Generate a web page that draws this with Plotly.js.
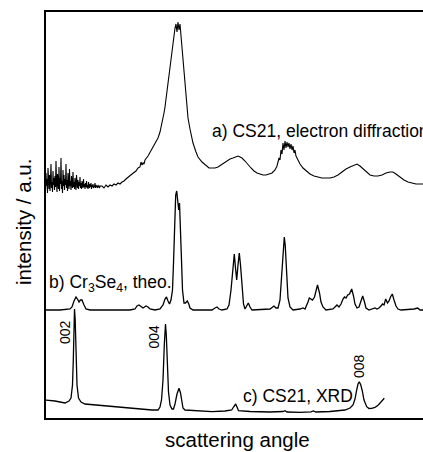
<!DOCTYPE html>
<html>
<head>
<meta charset="utf-8">
<script src="https://cdn.plot.ly/plotly-3.0.1.min.js"></script>
<style>html,body{margin:0;padding:0;background:#fff;}#chart{width:423px;height:452px;}</style>
</head>
<body>
<div id="chart"></div>
<script>
// (a) CS21, electron diffraction — scattering angle (arb.) vs intensity (arb.)
const angleA = [45,45.5,46,46.5,47,47.5,48,48.5,49,49.5,50,50.5,51,51.5,52,52.5,53,53.5,54,54.5,55,
  55.5,56,56.5,57,57.5,58,58.5,59,59.5,60,60.5,61,61.5,62,62.5,63,63.5,64,64.5,65,
  65.5,66,66.5,67,67.5,68,68.5,69,69.5,70,70.5,71,71.5,72,72.5,73,73.5,74,74.5,75,
  75.5,76,76.5,77,77.5,78,78.5,79,79.5,80,80.5,81,81.5,82,82.5,83,83.5,84,84.5,85,
  85.5,86,86.5,87,87.5,88,88.5,89,89.5,90,90.5,91,91.5,92,92.5,93,93.5,94,94.5,95,95.5,96,96.5,97,97.5,98,98.5,99,99.5,100,
  102,104,106,108,110,112,114,116,118,120,122,124,126,128,132,136,138,140,141,142,143,144,145,148,151,154,156,158,160,162,164,165,166,168,170,172,173,174,175,176,177,178,179,180,181,182,183,184,185,186,188,190,193,196,198,202,205,209,212,215,218,221,224,227,230,233,236,238,240,242,245,248,251,254,257,260,263,266,269,272,275,277,279,280,281,282,283,284,285,286,287,288,289,290,291,292,293,294,295,296,298,300,303,306,310,314,318,322,326,330,334,338,342,346,350,354,357,360,363,366,370,374,378,382,386,390,393,396,400,404,408,412,416,420,423];
const intensityA = [238,229,246,233,240,226,251,236,230,244,228,239,255,231,237,227,248,234,241,229,243,
  232,258,236,227,245,239,230,252,228,241,235,261,230,238,226,249,233,244,229,240,
  234,255,231,239,228,246,236,230,250,233,238,229,243,235,231,247,232,237,230,241,
  234,229,244,236,231,239,230,237,233,242,231,236,230,238,234,231,240,232,235,230,
  236,232,238,231,234,230,237,233,231,235,232,236,230,234,232,235,231,233,232,236,231,234,232,233,231,234,232,233,231,233,
  233,231,234,232,234,233,235,234,236,235,237,238,240,242,245,248,251,252,257,254,256,255,259,263,268,273,277,281,287,295,306,312,320,339,355,371,376,383,391,395,387,397,389,395,384,371,359,347,332,321,301,290,276,267,262,257,254,251,251,251,252,254,256,258,260,261,262,263,262,261,258,254,251,248,246,245,244,244,245,246,249,253,261,259,269,265,276,269,278,271,277,272,276,270,275,269,273,266,269,263,259,255,251,248,245,243,242,241,241,241,242,244,247,250,252,254,255,253,250,247,244,243,243,244,246,247,247,245,242,239,237,236,235,235,235];

// (b) Cr3Se4, theoretical pattern
const angleB = [45,60,70,72,74,76,77.5,79,80.5,82,84,86,90,130,135,137,139,141,143,146,148,150,155,160,163,165,166.5,168,169.5,171,172.5,173.5,174.5,175.7,176.7,177.7,178.7,179.5,180.5,181.5,182.5,184,185.5,187.3,188.8,190,193,212,215,217,219,222,227,229,231,232.5,234.3,235.5,236.7,238,239.3,240.5,242,243.5,245,247,248.3,250,252,270,272,274,276,278,280,282,283.5,284.3,285.2,286.5,288,290,293,300,303,305,306.5,308,309.3,311,312.5,314.5,316,317.5,319.5,321,323,326,333,335,337,339,341,343,344.5,346,347.7,349.5,351.7,353.5,355,357,359,361,362.7,364.5,366,369,373,375,377,379,381,382.5,384,385.7,387.5,389,390.5,392.3,394,396,398,401,414,417.7,420,423];
const intensityB = [109,109,110,112,118,122,120,117,119,119,114,110,109,109,110,113,114,112,111,113,112,110,109,110,114,120,122,118,115,119,129,156,194,224,228,214,209,216,194,159,129,116,116,118,115,111,109,109,111,112,110,109,110,114,129,149,165,151,139,154,166,154,129,115,110,113,116,112,109,110,112,113,111,111,119,149,174,182,174,149,121,112,109,110,111,110,113,117,121,120,119,122,129,134,126,117,112,109,110,112,114,112,115,120,122,121,124,125,130,123,115,111,112,118,123,117,111,109,110,111,110,111,113,115,114,120,116,118,122,125,119,113,110,109,110,111,109,109];

// (c) CS21, XRD
const angleC = [45,55,65,69,71,72.5,73.3,74,74.5,75.2,76,77,78.5,81,85,100,112,130,145,152,158,160,161.5,163,164.3,165.5,166.3,167.3,168.5,170,172,173.5,175,177,179,180.5,181.7,183,185,200,212,225,231.7,233.5,235.7,237,238.5,250,270,283,285,287,300,311,313.3,316,330,345,350,353,355,356.7,358,359.3,360.8,362.3,364,366.7,369,371.7,375,378.3,381,384.3];
const intensityC = [19,18,16,18,21,34,59,99,110,99,64,34,21,17,15,13.5,12.3,11,9.7,9,9,12,19,39,74,95,84,56,27,14,10,10,15,25,30.7,26,16,11,9,8,7.3,8,9,12,15,12,8.3,7.5,7,7.5,8.3,7,6.7,7.2,8,7,7.5,9,11,14,20,29,35,37.3,34,28,19,12.3,10.5,10.7,11.5,14,17,20.7];

// Peak index labels on the XRD pattern
const peakLabels = ["002", "004", "008"];
const peakAngles = [65, 153.5, 359];
const peakLabelY = [87, 82, 53];

// Series labels
const seriesLabels = ["a) CS21, electron diffraction", "b) Cr<sub>3</sub>Se<sub>4</sub>, theo.", "c) CS21, XRD"];
const seriesLabelX = [210, 47, 241];
const seriesLabelY = [288, 136, 23];

const FONT = "Liberation Sans, Arial, Helvetica, sans-serif";
const lineStyle = {color: "#000", width: 1.3};

const traces = [
  {x: angleA, y: intensityA, mode: "lines", line: {color: "#000", width: 1.1}, hoverinfo: "skip"},
  {x: angleB, y: intensityB, mode: "lines", line: lineStyle, hoverinfo: "skip"},
  {x: angleC, y: intensityC, mode: "lines", line: lineStyle, hoverinfo: "skip"}
];

const annotations = [];
for (let i = 0; i < seriesLabels.length; i++) {
  annotations.push({x: seriesLabelX[i], y: seriesLabelY[i], xref: "x", yref: "y",
    text: seriesLabels[i], showarrow: false, xanchor: "left", yanchor: "middle",
    font: {family: FONT, size: 17.5, color: "#000"}});
}
for (let i = 0; i < peakLabels.length; i++) {
  annotations.push({x: peakAngles[i], y: peakLabelY[i], xref: "x", yref: "y",
    text: peakLabels[i], showarrow: false, textangle: -90, xanchor: "center", yanchor: "middle",
    font: {family: FONT, size: 14, color: "#000"}});
}
annotations.push({x: -0.058, y: 0.483, xref: "paper", yref: "paper", text: "intensity / a.u.",
  showarrow: false, textangle: -90, xanchor: "center", yanchor: "middle",
  font: {family: FONT, size: 20.5, color: "#000"}});
annotations.push({x: 0.509, y: -0.052, xref: "paper", yref: "paper", text: "scattering angle",
  showarrow: false, xanchor: "center", yanchor: "middle",
  font: {family: FONT, size: 20.5, color: "#000"}});

const layout = {
  width: 423, height: 452,
  margin: {l: 46, r: 0, t: 12, b: 34, pad: 0},
  paper_bgcolor: "#fff", plot_bgcolor: "#fff",
  showlegend: false,
  xaxis: {range: [46, 423], showline: true, linecolor: "#000", linewidth: 2, mirror: true,
    showgrid: false, zeroline: false, showticklabels: false, ticks: "", fixedrange: true},
  yaxis: {range: [1, 407], showline: true, linecolor: "#000", linewidth: 2, mirror: false,
    showgrid: false, zeroline: false, showticklabels: false, ticks: "", fixedrange: true},
  annotations: annotations,
  font: {family: FONT, color: "#000"}
};

Plotly.newPlot("chart", traces, layout, {displayModeBar: false, staticPlot: true});
</script>
</body>
</html>
